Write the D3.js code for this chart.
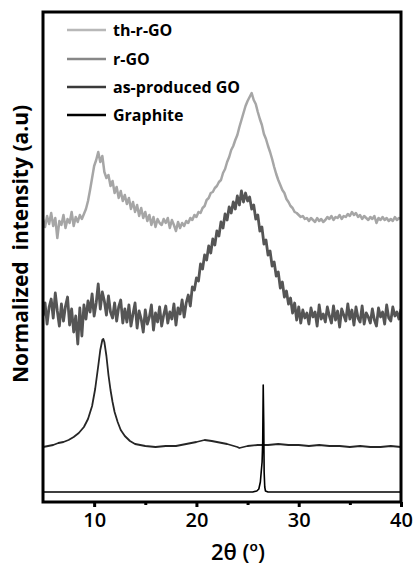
<!DOCTYPE html>
<html>
<head>
<meta charset="utf-8">
<script src="https://cdn.jsdelivr.net/npm/d3@7"></script>
<style>
  html, body { margin: 0; padding: 0; background: #fff; }
  svg { display: block; }
  text { font-family: "Open Sans", "DejaVu Sans", sans-serif; }
</style>
</head>
<body>
<svg id="chart" width="414" height="566"></svg>
<script>
// XRD patterns, 2θ from 5° to 40°, stacked with vertical offsets (arbitrary units)
const xTicks = [10, 20, 30, 40];
const xMinorTicks = [15, 25, 35];

// Noisy scans sampled every 0.2° from 5° to 40°
const scanStep = 0.2;
const thrGO = [
  283,275,286,278,289,276,284,264,281,277,
  287,274,283,279,290,276,285,280,287,283,
  288,293,301,312,324,336,342,350,340,346,
  330,324,327,316,321,309,315,304,311,301,
  307,298,304,293,300,290,297,286,294,284,
  290,281,287,277,285,275,283,279,277,283,
  279,284,274,282,277,271,280,274,279,276,
  281,279,284,282,287,285,290,289,294,296,
  302,304,309,310,314,316,320,322,329,333,
  340,345,352,356,362,367,375,382,389,396,
  401,405,409,402,398,390,383,377,368,363,
  356,350,343,335,328,322,317,312,309,303,
  300,296,294,290,289,287,285,286,283,284,
  281,284,282,280,284,281,283,280,282,285,
  283,286,282,285,284,287,283,286,285,288,
  286,290,287,289,285,287,283,286,284,282,
  285,283,286,279,284,282,285,282,284,281,
  283,281,285,282,284,283
];
const rGO = [
  186,199,178,195,203,184,209,191,176,198,
  181,196,205,177,193,170,186,158,194,166,
  197,183,201,190,208,186,199,218,193,210,
  201,187,206,190,184,199,181,195,202,179,
  193,180,197,176,188,199,174,191,183,170,
  192,178,185,197,172,189,180,195,176,187,
  196,179,190,183,198,177,194,188,202,185,
  199,207,196,215,212,224,221,238,233,247,
  242,256,249,263,257,271,266,280,274,288,
  282,295,289,300,293,306,297,311,300,309,
  301,305,293,297,283,287,271,275,258,262,
  247,251,236,240,226,230,214,220,205,211,
  198,204,189,199,182,195,179,192,184,189,
  178,194,185,190,176,197,183,188,180,195,
  186,179,196,182,191,175,193,187,181,198,
  183,192,177,195,184,180,196,178,189,185,
  179,193,182,176,194,185,190,178,197,184,
  181,195,186,190,183,193
];

// As-produced GO: (001) reflection near 10.9°
const goAngle = [5.0,5.5,6.0,6.5,7.0,7.5,8.0,8.5,9.0,9.4,9.8,10.1,10.4,10.6,10.8,10.9,11.0,11.2,11.4,11.6,11.8,12.0,12.3,12.6,13.0,13.5,14.0,14.5,15.0,16.0,17.0,18.0,19.0,20.0,20.8,21.5,22.0,23.0,24.0,24.2,25.0,26.0,27.0,28.0,29.0,30.0,31.0,32.0,33.0,34.0,35.0,36.0,37.0,38.0,39.0,40.0];
const goIntensity = [55,56,57,59,60,62,65,69,75,83,96,113,136,152,162,163,160,146,127,112,100,90,80,72,66,61,58,57,56,55,56,56,58,60,62,61,60,58,55,54,56,57,57,58,57,57,56,57,56,56,55,56,55,55,56,55];

// Graphite: sharp (002) reflection at 26.5°
const grAngle = [5.0,10.0,15.0,20.0,24.0,25.5,25.9,26.1,26.25,26.35,26.42,26.48,26.53,26.58,26.62,26.68,26.75,27.0,28.0,30.0,35.0,40.0];
const grIntensity = [10,10,10,10,10,10,11,13,20,32,40,60,117,80,30,15,11,10,10,10,10,10];

const seriesNames = ["th-r-GO", "r-GO", "as-produced GO", "Graphite"];
const seriesColors = ["#a6a6a6", "#555555", "#262626", "#000000"];
const legendColors = ["#b8b8b8", "#878787", "#3a3a3a", "#000000"];

const svg = d3.select("#chart");
const plotLeft = 43, plotRight = 401, plotTop = 12, plotBottom = 502;

const x = d3.scaleLinear().domain([5, 40]).range([plotLeft, plotRight]);
const y = d3.scaleLinear().domain([0, 490]).range([plotBottom, plotTop]);

const scanX = d3.range(thrGO.length).map(i => 5 + i * scanStep);
const series = [
  { name: seriesNames[0], pts: thrGO.map((v, i) => [scanX[i], v]), width: 2.5 },
  { name: seriesNames[1], pts: rGO.map((v, i) => [scanX[i], v]), width: 2.8 },
  { name: seriesNames[2], pts: goAngle.map((a, i) => [a, goIntensity[i]]), width: 1.8 },
  { name: seriesNames[3], pts: grAngle.map((a, i) => [a, grIntensity[i]]), width: 1.6 }
];

const line = d3.line().x(d => x(d[0])).y(d => y(d[1]));
svg.append("clipPath").attr("id", "plot-clip")
  .append("rect").attr("x", plotLeft).attr("y", plotTop)
  .attr("width", plotRight - plotLeft).attr("height", plotBottom - plotTop);

svg.append("g").attr("clip-path", "url(#plot-clip)")
  .selectAll("path").data(series).join("path")
  .attr("d", d => line(d.pts))
  .attr("fill", "none")
  .attr("stroke", (d, i) => seriesColors[i])
  .attr("stroke-width", d => d.width)
  .attr("stroke-linejoin", "round");

// Bottom axis: labelled major ticks and short minor ticks
const axisG = svg.append("g").attr("transform", `translate(0,${plotBottom})`)
  .call(d3.axisBottom(x).tickValues(xTicks).tickSize(5).tickPadding(6).tickFormat(d3.format("d")));
axisG.select(".domain").remove();
axisG.selectAll(".tick line").attr("stroke", "#000").attr("stroke-width", 3);
axisG.selectAll(".tick text")
  .attr("fill", "#000")
  .style("font-size", "20px")
  .style("font-weight", "600")
  .style("font-family", "'Open Sans', sans-serif");

const minorG = svg.append("g").attr("transform", `translate(0,${plotBottom})`)
  .call(d3.axisBottom(x).tickValues(xMinorTicks).tickSize(3).tickFormat(""));
minorG.select(".domain").remove();
minorG.selectAll(".tick line").attr("stroke", "#000").attr("stroke-width", 3);

// Frame
svg.append("rect")
  .attr("x", plotLeft).attr("y", plotTop)
  .attr("width", plotRight - plotLeft).attr("height", plotBottom - plotTop)
  .attr("fill", "none").attr("stroke", "#000").attr("stroke-width", 3);

// Legend
const legend = svg.append("g");
const rowY = [30, 59, 87, 115];
seriesNames.forEach((name, i) => {
  legend.append("line")
    .attr("x1", 67).attr("x2", 106)
    .attr("y1", rowY[i]).attr("y2", rowY[i])
    .attr("stroke", legendColors[i]).attr("stroke-width", 2.5);
  legend.append("text")
    .attr("x", 113).attr("y", rowY[i] + 6)
    .style("font-size", "16px").style("font-weight", "700")
    .attr("fill", "#000")
    .text(name);
});

// Axis titles
svg.append("text")
  .attr("transform", "translate(28,244) rotate(-90)")
  .attr("text-anchor", "middle")
  .style("font-size", "21px").style("font-weight", "700")
  .style("white-space", "pre")
  .text("Normalized  intensity (a.u)");

svg.append("text")
  .attr("x", 238).attr("y", 560)
  .attr("text-anchor", "middle")
  .style("font-size", "22px").style("font-weight", "600")
  .text("2θ (\u00BA)");
</script>
</body>
</html>
